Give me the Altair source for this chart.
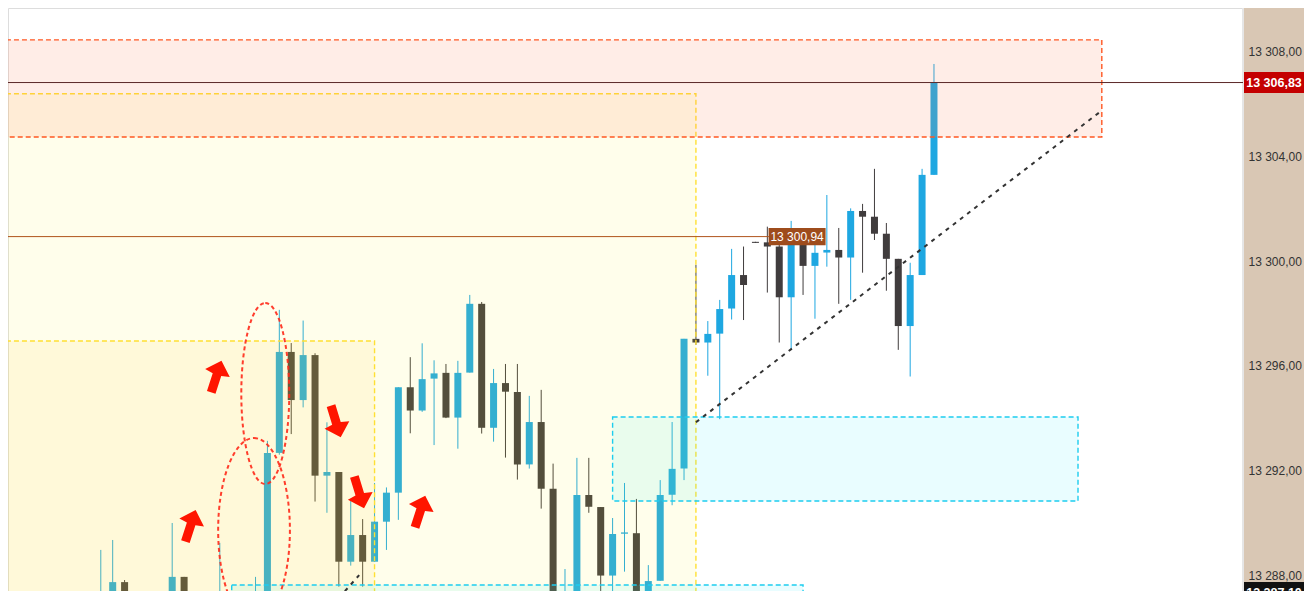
import altair as alt
import pandas as pd

# ---------------- candle data (bar index, price) ----------------
candle_idx = list(range(78))
candle_open = [13284.2, 13284.8, 13285.3, 13285.0, 13285.7, 13285.2, 13284.6, 13284.5, 13286.3, 13287.73,
               13285.6, 13284.9, 13285.8, 13286.6, 13287.93, 13286.2, 13285.5, 13286.3, 13286.9, 13286.0,
               13286.6, 13286.95, 13292.67, 13296.53, 13294.69, 13296.41, 13291.80, 13291.94, 13288.51, 13289.53,
               13288.51, 13290.04, 13291.15, 13295.18, 13294.29, 13295.51, 13295.73, 13294.02, 13295.74, 13298.37,
               13293.63, 13295.34, 13295.00, 13292.23, 13293.85, 13291.30, 13285.3, 13286.5, 13291.06, 13290.60,
               13287.98, 13289.58, 13289.60, 13286.5, 13287.78, 13291.07, 13292.07, 13297.03, 13296.89, 13297.23,
               13298.19, 13299.47, 13300.74, 13300.72, 13300.56, 13298.62, 13300.69, 13299.82, 13300.33, 13300.43,
               13300.14, 13301.92, 13301.70, 13301.05, 13300.09, 13297.52, 13299.47, 13303.30]
candle_high = [13285.0, 13285.6, 13285.9, 13286.0, 13286.2, 13285.8, 13285.4, 13288.96, 13289.34, 13287.81,
               13286.2, 13286.5, 13287.0, 13289.99, 13287.93, 13286.9, 13286.9, 13289.23, 13287.0, 13287.0,
               13287.93, 13293.13, 13298.14, 13296.87, 13297.73, 13296.48, 13293.84, 13291.94, 13290.87, 13290.14,
               13291.52, 13291.35, 13295.18, 13296.33, 13296.86, 13296.21, 13296.07, 13296.19, 13298.71, 13298.44,
               13295.88, 13296.07, 13296.07, 13294.85, 13295.08, 13292.26, 13288.23, 13292.48, 13292.48, 13290.60,
               13290.18, 13291.52, 13290.91, 13288.38, 13291.63, 13293.85, 13297.03, 13299.86, 13297.71, 13298.52,
               13300.47, 13300.56, 13300.74, 13301.32, 13301.00, 13301.54, 13301.26, 13300.75, 13302.53, 13301.27,
               13302.02, 13302.19, 13303.53, 13301.46, 13300.09, 13299.94, 13303.53, 13307.54]
candle_low = [13283.6, 13284.3, 13284.7, 13284.6, 13285.0, 13284.4, 13283.9, 13284.0, 13285.9, 13285.0,
              13284.6, 13284.5, 13285.4, 13286.3, 13285.9, 13285.2, 13285.1, 13285.9, 13285.6, 13285.5,
              13286.0, 13286.5, 13292.6, 13293.39, 13294.41, 13290.81, 13290.38, 13287.56, 13288.36, 13287.56,
              13288.50, 13288.96, 13290.11, 13293.42, 13294.24, 13292.97, 13294.00, 13292.83, 13295.74, 13293.41,
              13293.10, 13292.49, 13291.65, 13292.07, 13290.54, 13285.5, 13285.0, 13286.2, 13290.38, 13286.8,
              13286.9, 13288.13, 13286.2, 13286.3, 13287.78, 13290.67, 13291.63, 13296.80, 13295.62, 13293.96,
              13297.77, 13297.75, 13300.70, 13298.80, 13296.89, 13296.61, 13298.71, 13297.80, 13299.79, 13298.37,
              13298.52, 13299.56, 13300.81, 13298.87, 13296.61, 13295.59, 13299.47, 13303.30]
candle_close = [13284.8, 13285.3, 13285.0, 13285.7, 13285.2, 13284.6, 13284.5, 13286.3, 13287.73, 13285.6,
                13284.9, 13285.8, 13286.6, 13287.93, 13286.2, 13285.5, 13286.3, 13286.9, 13286.0, 13286.6,
                13286.95, 13292.67, 13296.53, 13294.69, 13296.41, 13291.80, 13291.94, 13288.51, 13289.53, 13288.51,
                13290.04, 13291.15, 13295.18, 13294.29, 13295.49, 13295.71, 13294.02, 13295.73, 13298.37, 13293.63,
                13295.34, 13295.01, 13292.23, 13293.85, 13291.30, 13286.0, 13286.5, 13291.06, 13290.61, 13287.98,
                13289.57, 13289.63, 13286.5, 13287.77, 13291.06, 13292.06, 13297.03, 13296.89, 13297.22, 13298.17,
                13299.47, 13299.09, 13300.70, 13300.56, 13298.62, 13300.80, 13299.82, 13300.32, 13300.43, 13300.14,
                13301.92, 13301.70, 13301.05, 13300.09, 13297.52, 13299.47, 13303.30, 13306.83]

# price axis ticks
y_ticks = [13288, 13292, 13296, 13300, 13304, 13308]

# zones (start bar, end bar, low price, high price)
zone_name = ["premium", "inner", "supply", "demand_up", "demand_low"]
zone_start = [-5, -5, -5, 50, 18]
zone_end = [57, 30, 91.1, 89.1, 66]
zone_low = [13280.0, 13280.0, 13304.75, 13290.83, 13280.0]
zone_high = [13306.40, 13296.95, 13308.46, 13294.04, 13287.62]

# trend lines
trend_a_idx = [57, 91.1]
trend_a_price = [13293.84, 13305.76]
trend_b_idx = [26, 28.71]
trend_b_price = [13286.61, 13288.00]

# arrows
arrow_idx = [16.71, 14.54, 26.75, 28.71, 33.83]
arrow_price = [13295.59, 13289.88, 13293.87, 13291.16, 13290.43]
arrow_dir = ["up", "up", "down", "down", "up"]

# ellipses
ellipse_idx = [20.82, 19.875]
ellipse_price = [13294.94, 13289.72]

# price levels
level_price = 13300.94
level_end_idx = 63.13
level_label = "13 300,94"
level_label_idx = 65.5
current_price = 13306.83
current_label = "13 306,83"
low_price = 13287.10
low_label = "13 287,10"

# ---------------- styles ----------------
UP = "#1ea7e1"
DOWN = "#403c3d"
zone_style = {
    "premium": ("#fff138", 0.10, "#ffe033"),
    "inner": ("#ffce36", 0.10, "#ffe033"),
    "supply": ("#ff8961", 0.15, "#ff5722"),
    "demand_up": ("#28f0ff", 0.10, "#1ccdef"),
    "demand_low": ("#28f0ff", 0.10, "#1ccdef"),
}

W, H = 1235, 583
xs = alt.Scale(domain=[-0.375, 102.5417], nice=False, zero=False)
ys = alt.Scale(domain=[13287.39, 13309.68], nice=False, zero=False)

y_axis = alt.Axis(orient="right", values=y_ticks, grid=False, domain=False, ticks=False,
                  labelPadding=5, labelFontSize=12, labelColor="#333333", labelAlign="left",
                  labelBaseline="middle", labelFont="Liberation Sans", title=None, zindex=2,
                  labelOverlap=False, labelFlush=False,
                  labelExpr="replace(replace(format(datum.value, ',.2f'), ',', ' '), '.', ',')")


def X(f):
    return alt.X(f, type="quantitative", scale=xs, axis=None)


def Y(f):
    return alt.Y(f, type="quantitative", scale=ys, axis=y_axis)


candles = pd.DataFrame({"i": candle_idx, "open": candle_open, "high": candle_high,
                        "low": candle_low, "close": candle_close})
candles["dir"] = ["up" if c >= o else "down" for o, c in zip(candle_open, candle_close)]
cscale = alt.Scale(domain=["up", "down"], range=[UP, DOWN])

# axis panel background
panel = alt.Chart(pd.DataFrame({"k": [0]})).mark_rect(color="#d9c7b4", clip=False).encode(
    x=alt.value(W), x2=alt.value(W + 61), y=alt.value(0), y2=alt.value(H))
sep = alt.Chart(pd.DataFrame({"k": [0]})).mark_rule(color="#e6e6e6", strokeWidth=2, clip=False).encode(
    x=alt.value(W), y=alt.value(0), y2=alt.value(H))

wicks = alt.Chart(candles).mark_rule(strokeWidth=1, clip=True).encode(
    x=X("i"), y=Y("low"), y2="high",
    color=alt.Color("dir:N", scale=cscale, legend=None))
bodies = alt.Chart(candles).mark_bar(size=7, clip=True).encode(
    x=X("i"), y=Y("open"), y2="close",
    color=alt.Color("dir:N", scale=cscale, legend=None))

zones = pd.DataFrame({"name": zone_name, "x1": zone_start, "x2": zone_end,
                      "y1": zone_low, "y2": zone_high})
zones["fill"] = [zone_style[n][0] for n in zone_name]
zones["fo"] = [zone_style[n][1] for n in zone_name]
zones["stroke"] = [zone_style[n][2] for n in zone_name]
zone_layer = alt.Chart(zones).mark_rect(clip=True, strokeWidth=1.4, strokeDash=[5, 3]).encode(
    x=X("x1"), x2="x2", y=Y("y1"), y2="y2",
    fill=alt.Fill("fill:N", scale=None),
    fillOpacity=alt.FillOpacity("fo:Q", scale=None),
    stroke=alt.Stroke("stroke:N", scale=None))

level_df = pd.DataFrame({"x1": [-5], "x2": [level_end_idx], "y": [level_price]})
level_line = alt.Chart(level_df).mark_rule(color="#b0541c", strokeWidth=1, clip=True).encode(
    x=X("x1"), x2="x2", y=Y("y"))
cur_df = pd.DataFrame({"x1": [-5], "x2": [110], "y": [current_price]})
cur_line = alt.Chart(cur_df).mark_rule(color="#5a2828", strokeWidth=1, clip=True).encode(
    x=X("x1"), x2="x2", y=Y("y"))

ta = pd.DataFrame({"i": trend_a_idx, "p": trend_a_price})
tb = pd.DataFrame({"i": trend_b_idx, "p": trend_b_price})
trend_a = alt.Chart(ta).mark_line(color="#333333", strokeWidth=2, strokeDash=[4, 5], clip=True).encode(
    x=X("i"), y=Y("p"))
trend_b = alt.Chart(tb).mark_line(color="#333333", strokeWidth=2, strokeDash=[4, 5], clip=True).encode(
    x=X("i"), y=Y("p"))

ARROW = "M -0.27 1 L -0.27 -0.12 L -0.78 -0.22 L 0 -1 L 0.78 -0.22 L 0.27 -0.12 L 0.27 1 Z"
arr = pd.DataFrame({"i": arrow_idx, "p": arrow_price, "dir": arrow_dir})
arr["angle"] = [18 if d == "up" else 163 for d in arrow_dir]
arrows = alt.Chart(arr).mark_point(shape=ARROW, size=1100, filled=True, color="#ff1500",
                                   opacity=1, clip=True).encode(
    x=X("i"), y=Y("p"), angle=alt.Angle("angle:Q", scale=None))


def ellipse_path(a):
    k = 0.5523
    return (f"M 0 -1 C {k*a:.4f} -1 {a:.4f} -{k} {a:.4f} 0 C {a:.4f} {k} {k*a:.4f} 1 0 1 "
            f"C -{k*a:.4f} 1 -{a:.4f} {k} -{a:.4f} 0 C -{a:.4f} -{k} -{k*a:.4f} -1 0 -1 Z")


e1 = alt.Chart(pd.DataFrame({"i": [ellipse_idx[0]], "p": [ellipse_price[0]]})).mark_point(
    shape=ellipse_path(0.265), size=181 * 181, filled=False, stroke="#ff2a1a", strokeWidth=2,
    strokeDash=[4, 3], opacity=0.9, clip=True).encode(x=X("i"), y=Y("p"))
e2 = alt.Chart(pd.DataFrame({"i": [ellipse_idx[1]], "p": [ellipse_price[1]]})).mark_point(
    shape=ellipse_path(0.39), size=184 * 184, filled=False, stroke="#ff2a1a", strokeWidth=2,
    strokeDash=[4, 3], opacity=0.9, clip=True).encode(x=X("i"), y=Y("p"))

BOX_L = "M -1 -0.3 L 1 -0.3 L 1 0.3 L -1 0.3 Z"
lbl = pd.DataFrame({"i": [level_label_idx], "p": [level_price], "t": [level_label]})
lbl_box = alt.Chart(lbl).mark_point(shape=BOX_L, size=57 * 57, filled=True, color="#9e4c1c",
                                    opacity=1, clip=True).encode(x=X("i"), y=Y("p"))
lbl_txt = alt.Chart(lbl).mark_text(color="white", fontSize=12, font="Liberation Sans",
                                   align="center", baseline="middle").encode(
    x=X("i"), y=Y("p"), text="t:N")

BOX_T = "M -1 -0.35 L 1 -0.35 L 1 0.35 L -1 0.35 Z"
cur_tag = pd.DataFrame({"p": [current_price], "t": [current_label]})
low_tag = pd.DataFrame({"p": [low_price], "t": [low_label]})
cur_box = alt.Chart(cur_tag).mark_point(shape=BOX_T, size=60 * 60, filled=True, opacity=1,
                                        color="#c40000", clip=False).encode(
    x=alt.value(W + 31), y=Y("p"))
cur_txt = alt.Chart(cur_tag).mark_text(color="white", fontSize=12.5, fontWeight="bold",
                                       font="Liberation Sans", align="center", baseline="middle",
                                       clip=False).encode(
    x=alt.value(W + 31), y=Y("p"), text="t:N")
low_box = alt.Chart(low_tag).mark_point(shape=BOX_T, size=60 * 60, filled=True, opacity=1,
                                        color="#111111", clip=False, yOffset=-6).encode(
    x=alt.value(W + 31), y=Y("p"))
low_txt = alt.Chart(low_tag).mark_text(color="white", fontSize=12.5, fontWeight="bold",
                                       font="Liberation Sans", align="center", baseline="middle",
                                       clip=False, yOffset=-6).encode(
    x=alt.value(W + 31), y=Y("p"), text="t:N")

chart = alt.layer(
    panel, sep, wicks, bodies, zone_layer, level_line, cur_line, trend_a, trend_b,
    e1, e2, arrows, lbl_box, lbl_txt, cur_box, cur_txt, low_box, low_txt
).properties(
    width=W, height=H,
    autosize=alt.AutoSizeParams(type="none"),
    padding={"left": 0, "top": 0, "right": 61, "bottom": 0},
    background="#ffffff",
).configure_view(fill="#fafafa", stroke=None).configure(font="Liberation Sans")

chart.save("out.html", embed_options={"renderer": "svg", "actions": False})
